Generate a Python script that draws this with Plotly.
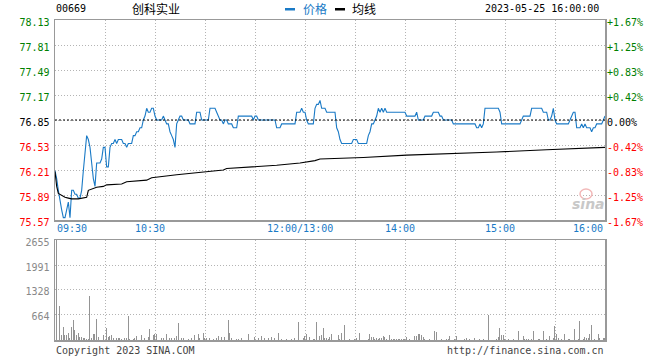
import plotly.graph_objects as go

# ---------------- data ----------------
stock_code = "00669"
stock_name = "创科实业"
timestamp = "2023-05-25 16:00:00"
prev_close = 76.85

# per-minute price, minute 0 = 09:30, 150 = 12:00/13:00, 330 = 16:00
price = [
    76.20, 76.10, 75.95, 75.80, 75.70, 75.60, 75.60, 75.70, 75.80, 75.60,
    75.95, 75.95, 75.90, 75.90, 75.85, 75.85, 75.95, 76.20, 76.45, 76.65,
    76.60, 76.50, 76.30, 76.10, 76.00, 76.30, 76.30, 76.30, 76.35, 76.50,
    76.50, 76.25, 76.25, 76.50, 76.55, 76.55, 76.60, 76.55, 76.60, 76.60,
    76.60, 76.55, 76.55, 76.50, 76.55, 76.55, 76.55, 76.65, 76.65, 76.70,
    76.70, 76.75, 76.75, 76.85, 76.90, 77.00, 76.95, 76.95, 77.00, 77.00,
    76.90, 76.85, 76.85, 76.85, 76.85, 76.90, 76.85, 76.80, 76.80, 76.70,
    76.65, 76.60, 76.50, 76.80, 76.85, 76.90, 76.90, 76.85, 76.85, 76.85,
    76.85, 76.80, 76.80, 76.80, 76.80, 76.95, 76.95, 76.95, 76.85, 76.85,
    76.85, 76.85, 76.85, 77.00, 77.00, 77.00, 77.00, 76.95, 76.90, 76.85,
    76.85, 76.80, 76.85, 76.85, 76.80, 76.80, 76.80, 76.75, 76.75, 76.75,
    76.90, 76.90, 76.90, 76.90, 76.90, 76.90, 76.90, 76.90, 76.90, 76.85,
    76.90, 76.90, 76.85, 76.85, 76.85, 76.85, 76.85, 76.85, 76.85, 76.85,
    76.85, 76.85, 76.85, 76.75, 76.75, 76.75, 76.80, 76.80, 76.80, 76.80,
    76.80, 76.80, 76.80, 76.80, 76.80, 76.95, 76.95, 76.95, 77.00, 76.95,
    76.95, 76.85, 76.80, 76.80, 76.80, 76.80, 77.00, 77.05, 77.05, 77.10,
    77.00, 77.00, 77.00, 76.95, 76.95, 76.95, 76.95, 76.95, 76.95, 76.75,
    76.70, 76.60, 76.55, 76.55, 76.55, 76.55, 76.55, 76.55, 76.55, 76.60,
    76.60, 76.60, 76.55, 76.55, 76.55, 76.55, 76.55, 76.55, 76.65, 76.70,
    76.80, 76.80, 76.85, 76.90, 77.00, 76.95, 77.00, 76.95, 77.00, 76.95,
    76.95, 76.95, 76.95, 76.95, 76.95, 76.95, 76.95, 76.95, 76.95, 76.95,
    76.95, 76.90, 76.90, 76.90, 76.90, 76.90, 76.90, 76.95, 76.85, 76.85,
    76.85, 76.85, 76.90, 76.90, 76.90, 76.90, 76.90, 76.95, 76.95, 76.95,
    76.95, 76.90, 76.90, 76.85, 76.85, 76.85, 76.85, 76.85, 76.85, 76.80,
    76.80, 76.80, 76.80, 76.80, 76.80, 76.80, 76.80, 76.80, 76.80, 76.80,
    76.80, 76.80, 76.80, 76.75, 76.75, 76.80, 76.75, 76.80, 77.00, 77.00,
    77.00, 77.00, 77.00, 77.00, 77.00, 77.00, 77.00, 76.95, 76.80, 76.80,
    76.80, 76.80, 76.80, 76.80, 76.80, 76.80, 76.80, 76.80, 76.80, 76.80,
    76.85, 76.90, 76.90, 76.90, 76.90, 76.90, 77.00, 77.00, 77.00, 77.00,
    77.00, 77.00, 77.00, 76.95, 76.95, 76.95, 76.85, 76.85, 76.90, 77.00,
    76.85, 76.80, 76.80, 76.80, 76.80, 76.80, 76.80, 76.80, 76.80, 76.85,
    76.90, 76.95, 76.95, 76.75, 76.75, 76.75, 76.80, 76.75, 76.80, 76.75,
    76.75, 76.75, 76.70, 76.75, 76.75, 76.80, 76.80, 76.80, 76.80, 76.85,
    76.90,
]

# average price line readings (minute, value)
avg_minutes = [0, 1, 2, 4, 6, 8, 10, 14, 17, 19, 20, 23, 25, 29, 31, 40, 43,
               55, 58, 73, 91, 101, 103, 119, 133, 147, 156, 159, 185, 211,
               239, 265, 295, 330]
avg_values = [76.19, 76.00, 75.91, 75.88, 75.86, 75.85, 75.84, 75.84, 75.85,
              75.86, 75.95, 75.98, 75.99, 76.00, 76.02, 76.03, 76.06, 76.08,
              76.11, 76.15, 76.19, 76.21, 76.23, 76.25, 76.27, 76.30, 76.33,
              76.35, 76.37, 76.40, 76.42, 76.44, 76.47, 76.50]

# per-minute volume
volume = [
    2655, 0, 900, 130, 350, 130, 130, 180, 60, 350,
    530, 265, 130, 180, 90, 90, 45, 60, 25, 35,
    1177, 45, 150, 170, 550, 70, 0, 0, 130, 0,
    310, 90, 105, 130, 45, 0, 60, 60, 45, 25,
    0, 45, 45, 645, 25, 0, 25, 45, 100, 0,
    0, 130, 0, 45, 0, 90, 285, 0, 130, 150,
    150, 0, 0, 45, 60, 0, 160, 0, 45, 45,
    0, 45, 105, 440, 0, 45, 45, 0, 0, 25,
    0, 45, 0, 130, 0, 150, 60, 0, 185, 45,
    60, 0, 45, 0, 25, 0, 45, 105, 0, 80,
    0, 80, 0, 530, 195, 45, 0, 0, 25, 35,
    0, 45, 0, 0, 0, 160, 0, 0, 0, 70,
    0, 45, 0, 105, 0, 45, 0, 45, 0, 70,
    0, 45, 0, 177, 0, 35, 0, 0, 35, 0,
    0, 25, 0, 45, 0, 478, 0, 0, 45, 105,
    150, 0, 80, 0, 35, 25, 478, 0, 105, 130,
    310, 45, 60, 20, 88, 160, 0, 0, 0, 130,
    25, 195, 0, 398, 0, 0, 25, 0, 0, 25,
    45, 0, 186, 0, 0, 0, 0, 25, 160, 80,
    80, 25, 45, 25, 45, 60, 105, 70, 25, 0,
    130, 25, 25, 25, 25, 25, 25, 25, 25, 25,
    80, 0, 25, 0, 0, 105, 105, 160, 160, 130,
    70, 25, 0, 0, 25, 0, 0, 248, 220, 0,
    0, 25, 0, 0, 25, 25, 105, 0, 0, 25,
    105, 0, 0, 0, 0, 25, 45, 0, 25, 0,
    0, 45, 0, 0, 25, 0, 25, 0, 0, 664,
    0, 0, 0, 0, 25, 88, 310, 130, 140, 25,
    0, 25, 0, 0, 25, 0, 0, 239, 0, 0,
    105, 25, 25, 25, 0, 25, 239, 0, 0, 25,
    25, 0, 239, 0, 25, 0, 105, 0, 45, 380,
    160, 45, 0, 25, 0, 160, 0, 25, 25, 0,
    0, 292, 0, 25, 504, 0, 25, 70, 45, 55,
    160, 398, 0, 25, 0, 160, 55, 0, 55, 55,
    345,
]

price_ticks = [78.13, 77.81, 77.49, 77.17, 76.85, 76.53, 76.21, 75.89, 75.57]
pct_labels = ["+1.67%", "+1.25%", "+0.83%", "+0.42%", "0.00%",
              "-0.42%", "-0.83%", "-1.25%", "-1.67%"]
vol_ticks = [664, 1328, 1991, 2655]
x_tick_minutes = [0, 60, 150, 210, 270, 330]
x_tick_labels = ["09:30", "10:30", "12:00/13:00", "14:00", "15:00", "16:00"]
grid_minutes = list(range(0, 331, 30))

# ---------------- style ----------------
W, H = 660, 360
L, R, T, B = 55, 55, 20, 20
PW, PH = W - L - R, H - T - B
MONO = "DejaVu Sans Mono"
BLUE = "#1a7ac6"
GREEN = "#008000"
RED = "#ff0000"
GRID = "#b4b4b4"
FRAME = "#999999"


def px_x(x):
    return (x - L) / PW


def px_y(y):
    return (H - B - y) / PH


def col(v):
    if abs(v - prev_close) < 1e-6:
        return "#000000"
    return GREEN if v > prev_close else RED


price_ticktext = [f'<span style="color:{col(v)}">{v:.2f}</span>' for v in price_ticks]
pct_ticktext = [f'<span style="color:{col(v)}">{t}</span>' for v, t in zip(price_ticks, pct_labels)]

minutes = list(range(len(price)))

fig = go.Figure()
fig.add_trace(go.Bar(x=list(range(len(volume))), y=volume, width=0.7, offset=0.5,
                     marker=dict(color="#949494", line=dict(width=0)),
                     cliponaxis=False,
                     xaxis="x2", yaxis="y3", hoverinfo="skip"))
fig.add_trace(go.Scatter(x=minutes, y=price, mode="lines",
                         line=dict(color=BLUE, width=1.1), xaxis="x", yaxis="y",
                         hoverinfo="skip"))
fig.add_trace(go.Scatter(x=avg_minutes, y=avg_values, mode="lines",
                         line=dict(color="#000000", width=1.1), xaxis="x", yaxis="y",
                         hoverinfo="skip"))
# invisible trace to activate right axis
fig.add_trace(go.Scatter(x=[0], y=[prev_close], mode="markers", opacity=0,
                         xaxis="x", yaxis="y2", hoverinfo="skip"))

price_dom = [px_y(220), 1.0]
vol_dom = [0.0, px_y(240)]

xcommon = dict(range=[0, 330], tickvals=grid_minutes, showticklabels=False,
               showgrid=True, gridcolor=GRID, griddash="1px,2px", gridwidth=1,
               showline=True, linecolor=FRAME, linewidth=1.5, mirror=True,
               zeroline=False, ticks="", fixedrange=True)

fig.update_layout(
    width=W, height=H, margin=dict(l=L, r=R, t=T, b=B, autoexpand=False),
    paper_bgcolor="white", plot_bgcolor="white", showlegend=False,
    bargap=0, hovermode=False,
    xaxis=dict(anchor="y", **xcommon),
    xaxis2=dict(anchor="y3", matches="x", **xcommon),
    yaxis=dict(domain=price_dom, range=[price_ticks[-1], price_ticks[0]],
               tickvals=price_ticks, ticktext=price_ticktext,
               tickfont=dict(family=MONO, size=10), showgrid=True,
               gridcolor=GRID, griddash="1px,2px", gridwidth=1,
               showline=True, linecolor=FRAME, linewidth=1.5, mirror=True,
               zeroline=False, ticks="", ticklabelshift=2, ticklabelstandoff=2,
               fixedrange=True),
    yaxis2=dict(domain=price_dom, overlaying="y", side="right", anchor="x",
                range=[price_ticks[-1], price_ticks[0]], tickvals=price_ticks,
                ticktext=pct_ticktext, tickfont=dict(family=MONO, size=10),
                showgrid=False, zeroline=False, ticks="", ticklabelshift=2,
                ticklabelstandoff=1, fixedrange=True),
    yaxis3=dict(domain=vol_dom, range=[0, vol_ticks[-1]], tickvals=vol_ticks,
                ticktext=[str(v) for v in vol_ticks],
                tickfont=dict(family=MONO, size=10, color="#888888"),
                showgrid=True, gridcolor=GRID, griddash="1px,2px", gridwidth=1,
                showline=True, linecolor=FRAME, linewidth=1.5, mirror=True,
                zeroline=False, ticks="", ticklabelshift=2, ticklabelstandoff=2,
                fixedrange=True),
)

# previous close dashed line
fig.add_shape(type="line", xref="x", yref="y", x0=0, x1=330, y0=prev_close,
              y1=prev_close, line=dict(color="#000000", width=1, dash="2px,2px"))

ann = []
for m, lab in zip(x_tick_minutes, x_tick_labels):
    if m == x_tick_minutes[0]:
        xa, sh = "left", 0
    elif m == x_tick_minutes[-1]:
        xa, sh = "right", 0
    else:
        xa, sh = "center", -5.5
    ann.append(dict(x=m, xref="x", y=px_y(228), yref="paper", text=lab,
                    showarrow=False, xanchor=xa, yanchor="middle", xshift=sh,
                    font=dict(family=MONO, size=10, color=BLUE)))

ann += [
    dict(x=px_x(54), y=px_y(9), text=stock_code, xanchor="left"),
    dict(x=px_x(130), y=px_y(9), text=stock_name, xanchor="left",
         font=dict(family="Noto Sans CJK SC", size=12, color="#000")),
    dict(x=px_x(301), y=px_y(9), text="价格", xanchor="left",
         font=dict(family="Noto Sans CJK SC", size=12, color=BLUE)),
    dict(x=px_x(350), y=px_y(9), text="均线", xanchor="left",
         font=dict(family="Noto Sans CJK SC", size=12, color="#000")),
    dict(x=px_x(601), y=px_y(9), text=timestamp, xanchor="right"),
    dict(x=px_x(54), y=px_y(350), text="Copyright 2023 SINA.COM", xanchor="left",
         font=dict(family=MONO, size=10, color="#444444")),
    dict(x=px_x(606), y=px_y(350), text="http://finance.sina.com.cn", xanchor="right",
         font=dict(family=MONO, size=10, color="#444444")),
    dict(x=px_x(588), y=px_y(204), text="<b><i>sina</i></b>", xanchor="center",
         font=dict(family="DejaVu Sans", size=14, color="#c8c8c8")),
]
for a in ann:
    a.setdefault("xref", "paper")
    a.setdefault("yref", "paper")
    a.setdefault("showarrow", False)
    a.setdefault("yanchor", "middle")
    a.setdefault("font", dict(family=MONO, size=10, color="#000"))
fig.update_layout(annotations=ann)

# legend swatches
fig.add_shape(type="rect", xref="paper", yref="paper", x0=px_x(285), x1=px_x(295),
              y0=px_y(10.5), y1=px_y(8), fillcolor=BLUE, line=dict(width=0))
fig.add_shape(type="rect", xref="paper", yref="paper", x0=px_x(335), x1=px_x(345),
              y0=px_y(10.5), y1=px_y(8), fillcolor="#000", line=dict(width=0))
# sina logo eye
fig.add_shape(type="circle", xref="paper", yref="paper", x0=px_x(580), x1=px_x(592),
              y0=px_y(199), y1=px_y(189), line=dict(color="#f2b8b8", width=1.5))

fig.write_html("out.html", config={"displayModeBar": False, "staticPlot": True},
               post_script="document.body.style.margin='0';document.body.style.overflow='hidden';")
